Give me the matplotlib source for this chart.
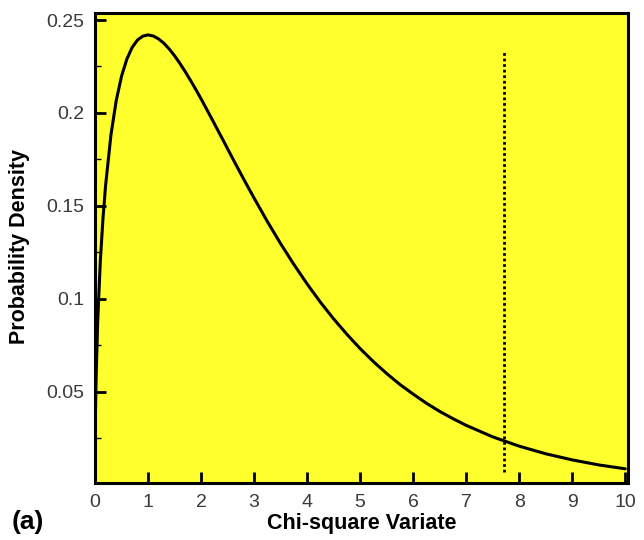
import numpy as np
import matplotlib.pyplot as plt
from matplotlib.ticker import MultipleLocator

plt.rcParams['font.family'] = ['Liberation Sans', 'DejaVu Sans']

# values
chi_x = [0, 0.01, 0.02, 0.05, 0.1, 0.15, 0.2, 0.3, 0.4, 0.5, 0.6, 0.7, 0.8,
         0.9, 1.0, 1.1, 1.2, 1.3, 1.4, 1.5, 1.6, 1.7, 1.8, 1.9, 2.0, 2.2,
         2.4, 2.6, 2.8, 3.0, 3.25, 3.5, 3.75, 4.0, 4.25, 4.5, 4.75, 5.0,
         5.25, 5.5, 5.75, 6.0, 6.25, 6.5, 6.75, 7.0, 7.5, 8.0, 8.5, 9.0,
         9.5, 10.0]
density = [0.0, 0.040, 0.056, 0.087, 0.120, 0.143, 0.161, 0.188, 0.2066,
           0.2197, 0.2289, 0.2352, 0.2392, 0.2413, 0.2420, 0.2414, 0.2398,
           0.2375, 0.2344, 0.2308, 0.2267, 0.2223, 0.2176, 0.2127, 0.2076,
           0.1970, 0.1862, 0.1753, 0.1646, 0.1542, 0.1416, 0.1297, 0.1185,
           0.1080, 0.0982, 0.0892, 0.0809, 0.0732, 0.0662, 0.0598, 0.0539,
           0.0487, 0.0438, 0.0394, 0.0355, 0.0319, 0.0257, 0.0207, 0.0166,
           0.0133, 0.0106, 0.0085]

crit_x = 7.72
crit_y = [0.007, 0.234]

x_ticks = list(range(0, 11))
y_ticks = [0.05, 0.1, 0.15, 0.2, 0.25]
y_ticklabels = ['0.05', '0.1', '0.15', '0.2', '0.25']

fig = plt.figure(figsize=(6.44, 5.4), dpi=100)
ax = fig.add_axes([0.1475, 0.106, 0.8275, 0.87])
ax.set_facecolor('#ffff2e')

ax.plot(chi_x, density, color='black', lw=2.2, solid_capstyle='round',
        solid_joinstyle='round')
ax.plot([crit_x, crit_x], crit_y, color='black', lw=2.0, linestyle=(0, (1, 1)))

ax.set_xlim(0, 10.05)
ax.set_ylim(0.001, 0.2538)
ax.set_xticks(x_ticks)
ax.set_yticks(y_ticks)
ax.set_yticklabels(y_ticklabels)
ax.yaxis.set_minor_locator(MultipleLocator(0.025))

ax.tick_params(axis='both', which='major', direction='in', length=8, width=2,
               labelsize=14, labelcolor='#3a3a3a', pad=8)
ax.tick_params(axis='y', which='minor', direction='in', length=4, width=1)
for s in ax.spines.values():
    s.set_linewidth(2.2)

fig.text(0.031, 0.544, 'Probability Density', rotation=90, ha='center', va='center',
         fontsize=15.5, fontweight='bold')
fig.text(0.561, 0.030, 'Chi-square Variate', ha='center', va='center',
         fontsize=15.5, fontweight='bold')
fig.text(0.018, 0.033, '(a)', ha='left', va='center', fontsize=19, fontweight='bold')

fig.savefig('out.png', dpi=100)
